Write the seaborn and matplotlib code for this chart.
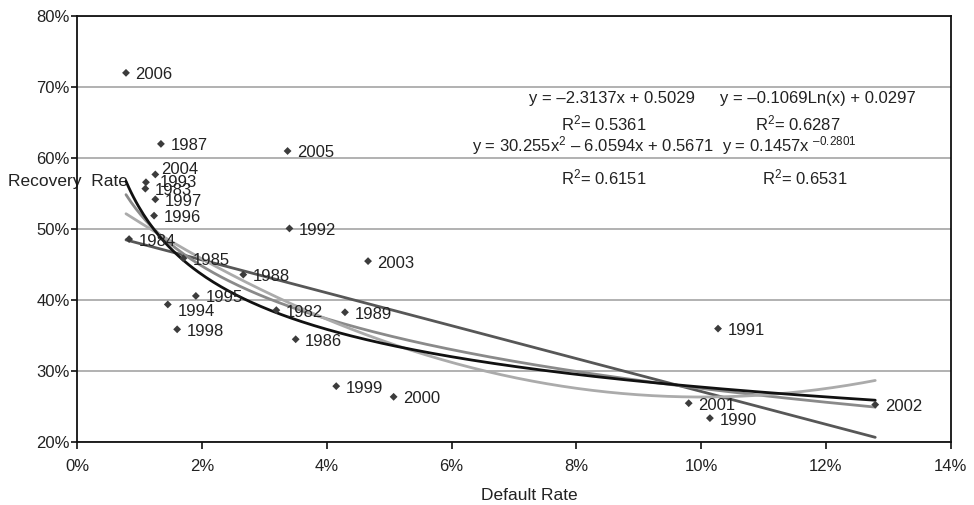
import numpy as np
import pandas as pd
import matplotlib
matplotlib.use("Agg")
import matplotlib.pyplot as plt
import seaborn as sns
from matplotlib.ticker import PercentFormatter, MultipleLocator

# Annual default rates and recovery rates (fractions)
years = [1982, 1983, 1984, 1985, 1986, 1987, 1988, 1989, 1990, 1991, 1992, 1993,
         1994, 1995, 1996, 1997, 1998, 1999, 2000, 2001, 2002, 2003, 2004, 2005, 2006]
default_rate = [0.0319, 0.0109, 0.0083, 0.0170, 0.0350, 0.0134, 0.0266, 0.0429,
                0.1014, 0.1027, 0.0340, 0.0110, 0.0145, 0.0190, 0.0123, 0.0125,
                0.0160, 0.0415, 0.0507, 0.0980, 0.1279, 0.0466, 0.0125, 0.0337, 0.0078]
recovery_rate = [0.386, 0.557, 0.486, 0.459, 0.345, 0.620, 0.436, 0.383,
                 0.234, 0.360, 0.501, 0.566, 0.394, 0.406, 0.519, 0.542,
                 0.359, 0.279, 0.264, 0.255, 0.253, 0.455, 0.577, 0.610, 0.720]

# Trendline coefficients and goodness of fit
linear_coef = [-2.3137, 0.5029]          # y = a*x + b
log_coef = [-0.1069, 0.0297]             # y = a*ln(x) + b
poly_coef = [30.255, -6.0594, 0.5671]    # y = a*x^2 + b*x + c
power_coef = [0.1457, -0.2801]           # y = a*x^b
r_squared = {"linear": 0.5361, "log": 0.6287, "poly": 0.6151, "power": 0.6531}

sns.set_theme(style="white")
plt.rcParams["font.family"] = ["Liberation Sans", "DejaVu Sans"]
plt.rcParams["mathtext.fontset"] = "custom"
plt.rcParams["mathtext.rm"] = "Liberation Sans"
plt.rcParams["mathtext.default"] = "regular"

TEXT = "#222222"
FS = 12

df = pd.DataFrame({"year": years, "default": default_rate, "recovery": recovery_rate})

fig = plt.figure(figsize=(9.74, 5.05), dpi=100)
ax = fig.add_axes([0.0794, 0.1242, 0.9761 - 0.0794, 0.9683 - 0.1242])

# Trend curves over the observed range of default rates
xs = np.linspace(df["default"].min(), df["default"].max(), 300)
curves = [
    ("linear", np.polyval(linear_coef, xs), "#575757"),
    ("log", log_coef[0] * np.log(xs) + log_coef[1], "#8a8a8a"),
    ("poly", np.polyval(poly_coef, xs), "#ababab"),
    ("power", power_coef[0] * xs ** power_coef[1], "#111111"),
]
for i, (name, ys, col) in enumerate(curves):
    sns.lineplot(x=xs, y=ys, ax=ax, color=col, lw=2.0, zorder=3 + i)

sns.scatterplot(data=df, x="default", y="recovery", ax=ax, marker="D", s=16,
                color="#3c3c3c", edgecolor="none", linewidth=0, zorder=10)

# Year labels next to each point (offsets in pixels)
px2pt = 0.72
nudges = {2004: (6.0, -5.0), 1993: (13.3, 0.6), 1994: (10.3, 6.7)}
for yr, x, y in zip(years, default_rate, recovery_rate):
    dx, dy = nudges.get(yr, (9.5, 2.0))
    ax.annotate(str(yr), (x, y), xytext=(dx * px2pt, -dy * px2pt),
                textcoords="offset points", ha="left", va="center",
                fontsize=FS, color=TEXT, zorder=11)


def num(v):
    return f"{v:g}".replace("-", "–")


eq_linear = f"y = {num(linear_coef[0])}x + {num(linear_coef[1])}"
eq_log = f"y = {num(log_coef[0])}Ln(x) + {num(log_coef[1])}"
eq_poly = (f"y = {num(poly_coef[0])}x$^2$ – {num(abs(poly_coef[1]))}x"
           f" + {num(poly_coef[2])}")
eq_power = f"y = {num(power_coef[0])}x $^{{{num(power_coef[1])}}}$"

eq_kw = dict(fontsize=FS, color=TEXT, va="baseline", zorder=12)
ax.text(0.08563, 0.6780, eq_linear, ha="center", **eq_kw)
ax.text(0.11878, 0.6780, eq_log, ha="center", **eq_kw)
ax.text(0.08443, 0.6386, f"R$^2$= {r_squared['linear']}", ha="center", **eq_kw)
ax.text(0.11550, 0.6386, f"R$^2$= {r_squared['log']}", ha="center", **eq_kw)
ax.text(0.08258, 0.6090, eq_poly, ha="center", **eq_kw)
ax.text(0.10329, 0.6090, eq_power, ha="left", **eq_kw)
ax.text(0.08443, 0.5631, f"R$^2$= {r_squared['poly']}", ha="center", **eq_kw)
ax.text(0.11664, 0.5631, f"R$^2$= {r_squared['power']}", ha="center", **eq_kw)

ax.set_xlim(0, 0.14)
ax.set_ylim(0.20, 0.80)
ax.xaxis.set_major_locator(MultipleLocator(0.02))
ax.yaxis.set_major_locator(MultipleLocator(0.10))
ax.xaxis.set_major_formatter(PercentFormatter(1.0, decimals=0))
ax.yaxis.set_major_formatter(PercentFormatter(1.0, decimals=0))

ax.grid(axis="y", color="#ababab", lw=1.3)
ax.grid(axis="x", visible=False)
ax.set_axisbelow(True)
for sp in ax.spines.values():
    sp.set_visible(True)
    sp.set_color("#111111")
    sp.set_linewidth(1.3)

ax.tick_params(axis="both", which="major", direction="out", color="#111111",
               labelsize=FS, labelcolor=TEXT, width=1.2)
ax.tick_params(axis="y", length=4.5, pad=0.8, left=True)
ax.tick_params(axis="x", length=4.8, pad=7.0, bottom=True)

ax.set_xlabel("Default Rate", fontsize=FS + 0.5, color=TEXT, va="center")
ax.xaxis.set_label_coords(0.5172, -0.126)
ax.set_ylabel("Recovery  Rate", fontsize=FS + 0.5, color=TEXT, rotation=0,
              ha="left", va="center")
ax.yaxis.set_label_coords(-0.0793, 0.6113)

fig.savefig("out.png", dpi=100)
